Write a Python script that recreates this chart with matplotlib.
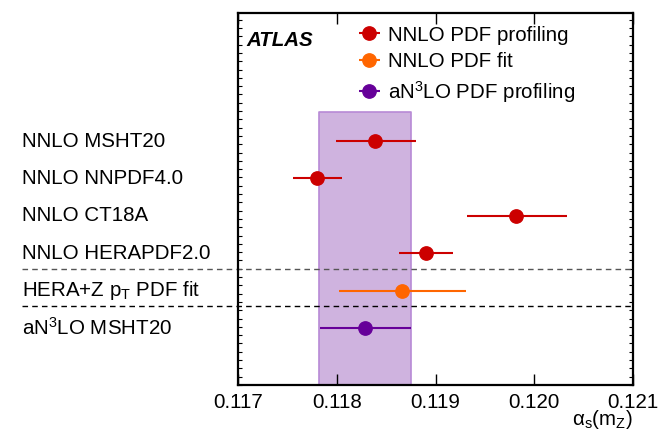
import numpy as np
import matplotlib.pyplot as plt
import matplotlib.transforms as mtransforms

plt.rcParams['font.family'] = ['Liberation Sans', 'DejaVu Sans']
plt.rcParams['mathtext.fontset'] = 'custom'
plt.rcParams['mathtext.rm'] = 'Liberation Sans'
plt.rcParams['mathtext.it'] = 'Liberation Sans:italic'
plt.rcParams['font.size'] = 14.8

# Measurements, top row first
labels = ['NNLO MSHT20', 'NNLO NNPDF4.0', 'NNLO CT18A', 'NNLO HERAPDF2.0',
          r'HERA+Z p$_{\rm T}$ PDF fit', r'aN$^{\rm 3}$LO MSHT20']
central = [0.11839, 0.11780, 0.11982, 0.11890, 0.11866, 0.11829]
err_lo = [0.00040, 0.00024, 0.00050, 0.00027, 0.00064, 0.00046]
err_hi = [0.00041, 0.00025, 0.00051, 0.00028, 0.00065, 0.00046]
kind = ['prof', 'prof', 'prof', 'prof', 'fit', 'n3lo']
rows = [6, 5, 4, 3, 2, 1]

# world-average style band
band_lo, band_hi = 0.11782, 0.11875
band_top = 6.78

series = {
    'prof': ('NNLO PDF profiling', '#cc0000'),
    'fit': ('NNLO PDF fit', '#ff6600'),
    'n3lo': (r'aN$^{\rm 3}$LO PDF profiling', '#660099'),
}

xticks = [0.117, 0.118, 0.119, 0.120, 0.121]
xticklabels = ['0.117', '0.118', '0.119', '0.120', '0.121']
ymin, ymax = -0.524, 9.423

fig = plt.figure(figsize=(6.6, 4.36), dpi=100)
ax = fig.add_axes([238 / 660, 51 / 436, 395 / 660, 372 / 436])

ax.fill_betweenx([ymin, band_top], band_lo, band_hi, facecolor='#cfb3df',
                 edgecolor='#b88ad6', linewidth=1.2, zorder=1)

handles = {}
for k in series:
    idx = [i for i in range(len(kind)) if kind[i] == k]
    x = np.array([central[i] for i in idx])
    y = np.array([rows[i] for i in idx])
    xe = np.array([[err_lo[i] for i in idx], [err_hi[i] for i in idx]])
    h = ax.errorbar(x, y, xerr=xe, fmt='o', color=series[k][1], ms=9.6,
                    elinewidth=1.5, capsize=0, zorder=3)
    handles[k] = h

# separators, reaching into the label column
xl = (22 - 238) / 395
ax.axhline(2.578, xmin=xl, xmax=1, color='#555555', ls=(0, (4, 3)), lw=1.0,
           clip_on=False, zorder=2)
ax.axhline(1.58, xmin=xl, xmax=1, color='black', ls=(0, (4, 3)), lw=1.0,
           clip_on=False, zorder=2)

trans = mtransforms.blended_transform_factory(ax.transAxes, ax.transData)
for lab, r in zip(labels, rows):
    ax.text(xl, r, lab, transform=trans, ha='left', va='center')

ax.set_xlim(0.117, 0.121)
ax.set_ylim(ymin, ymax)
ax.set_xticks(xticks)
ax.set_xticklabels(xticklabels)
ax.set_yticks([])
ax.set_yticks(np.arange(ymin, ymax, 0.222), minor=True)
ax.tick_params(axis='x', which='major', direction='in', length=8, width=1,
               top=True, pad=6)
ax.tick_params(axis='y', which='minor', direction='in', length=3, width=0.8,
               right=True, labelleft=False)
for s in ax.spines.values():
    s.set_linewidth(1.6)

ax.text(0.022, 0.927, 'ATLAS', transform=ax.transAxes, fontweight='bold',
        fontstyle='italic', ha='left', va='center')
ax.text(1.0, -0.094, r'$\rm \alpha_s(m_Z)$', transform=ax.transAxes,
        ha='right', va='center')

leg = ax.legend([handles[k] for k in series], [series[k][0] for k in series],
                loc='upper left', bbox_to_anchor=(0.2987, 0.966), frameon=False,
                borderpad=0, borderaxespad=0, handlelength=1.3,
                handletextpad=0.25, labelspacing=0.37)

fig.savefig('out.png', dpi=100)
